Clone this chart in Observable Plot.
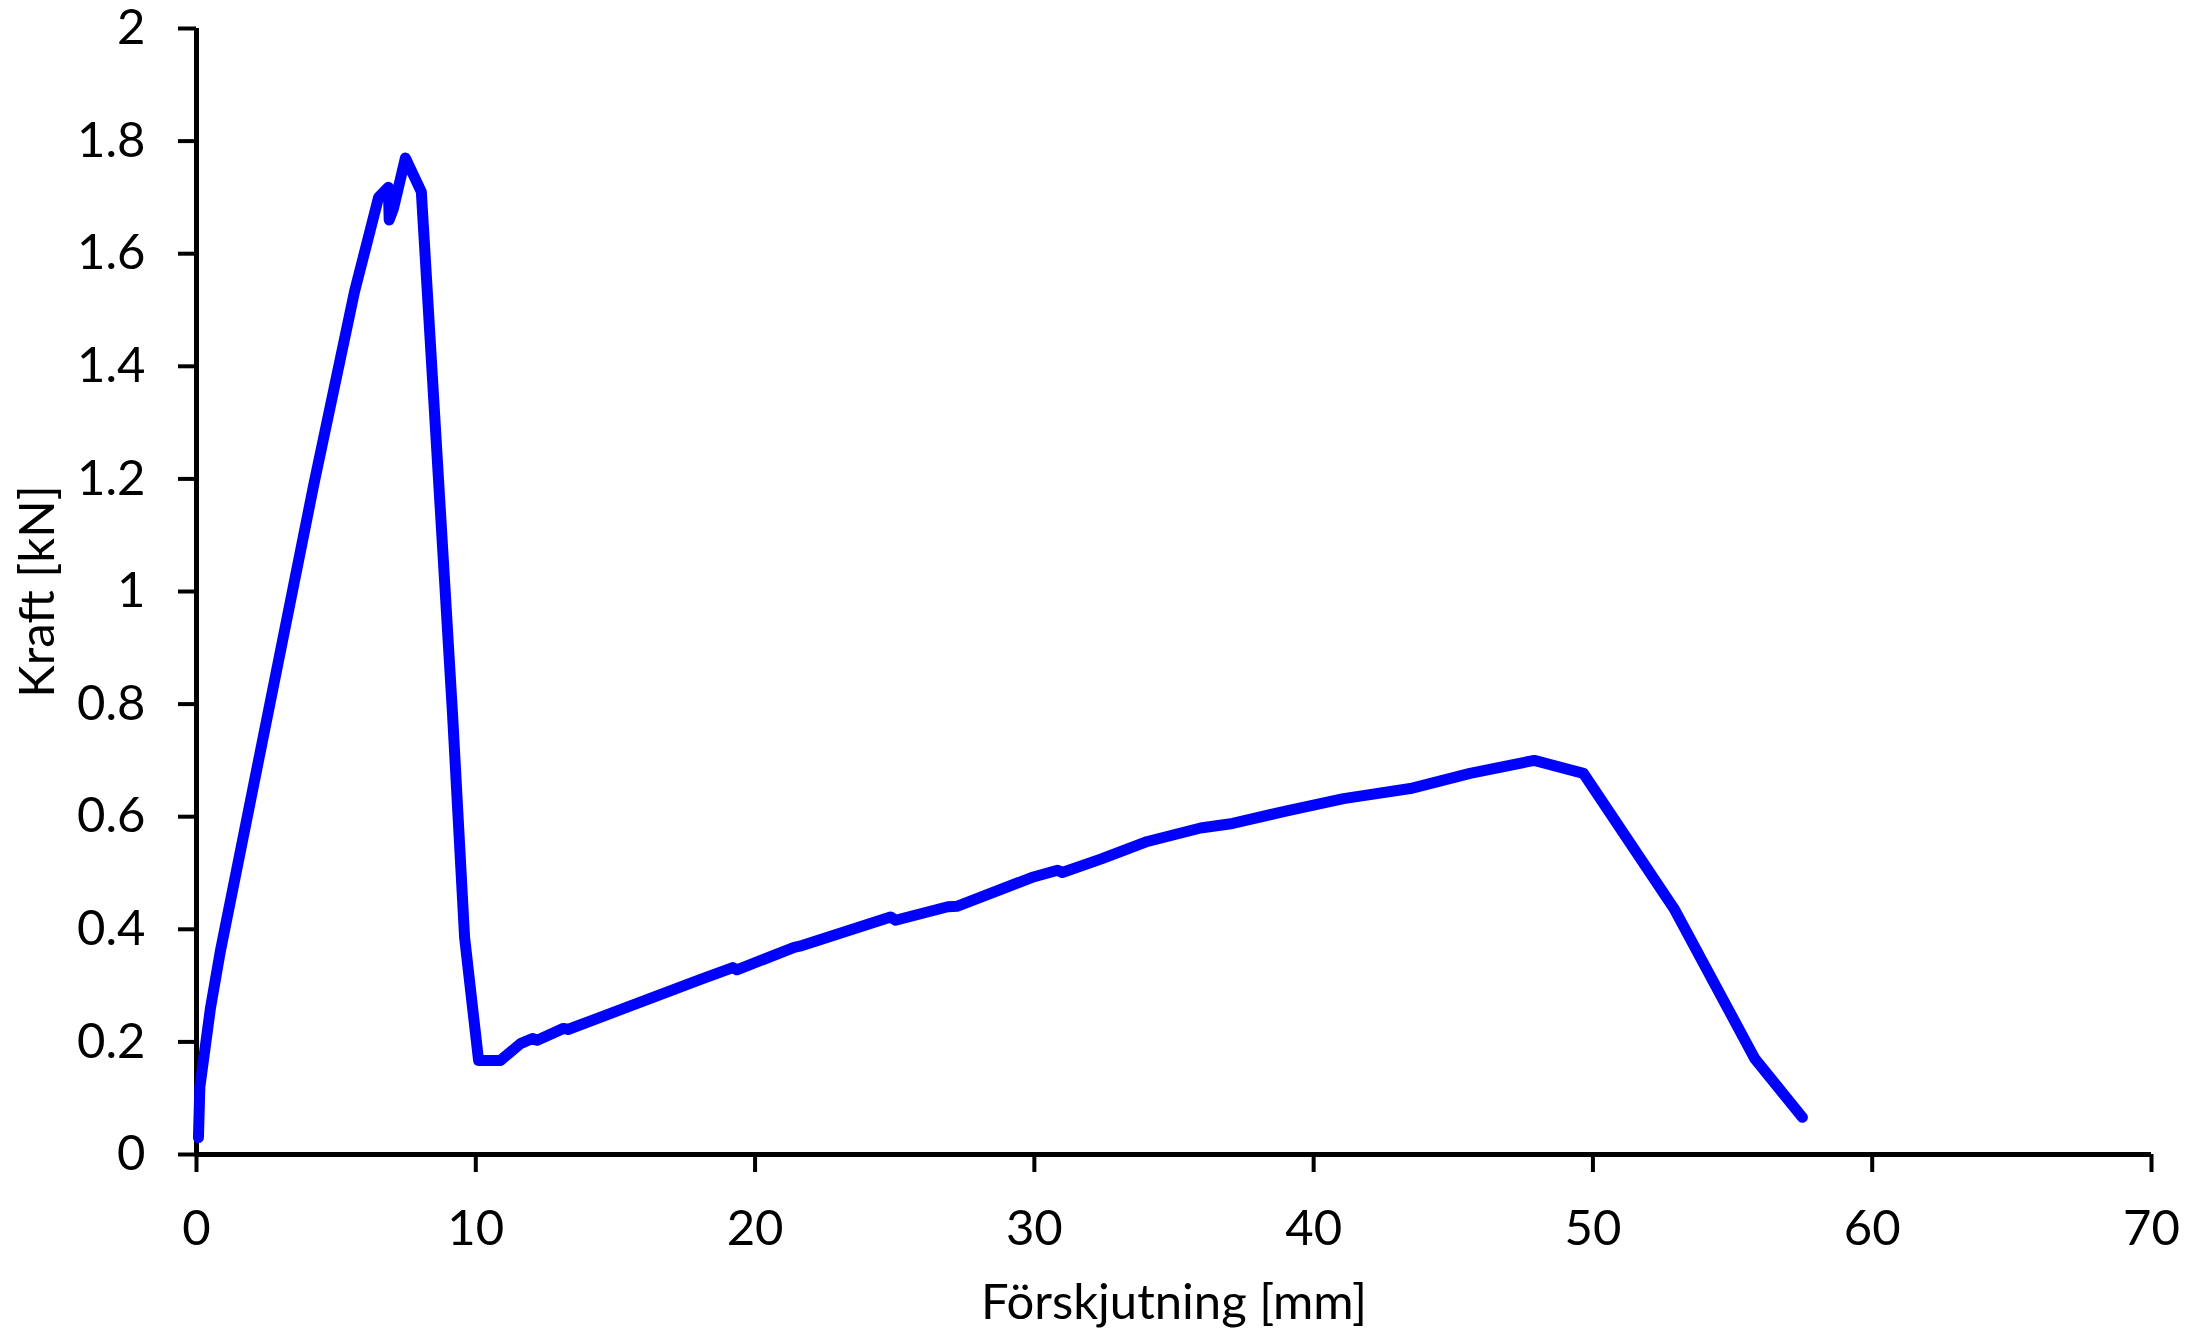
<!DOCTYPE html>
<html><head><meta charset="utf-8">
<script src="https://cdn.jsdelivr.net/npm/d3@7"></script>
<script src="https://cdn.jsdelivr.net/npm/@observablehq/plot@0.6"></script>
<style>body{margin:0;background:#fff} svg{overflow:visible}</style>
</head><body><div id="chart"></div>
<script>
const displacement = [0.07, 0.12, 0.5, 0.85, 4.2, 5.66, 6.52, 6.87, 6.9, 7.05, 7.48, 8.05, 9.17, 9.6, 10.1, 10.88, 11.6, 12.03, 12.2, 13.14, 13.3, 18.05, 19.2, 19.35, 21.4, 21.6, 24.85, 25.03, 26.9, 27.25, 29.9, 30.83, 31.0, 32.4, 34.05, 35.95, 37.1, 39.0, 41.07, 43.46, 45.6, 47.9, 49.66, 52.9, 55.8, 57.5];
const force = [0.03, 0.12, 0.26, 0.36, 1.19, 1.533, 1.70, 1.718, 1.66, 1.68, 1.77, 1.71, 0.78, 0.385, 0.167, 0.167, 0.197, 0.206, 0.203, 0.224, 0.222, 0.311, 0.332, 0.328, 0.368, 0.370, 0.422, 0.416, 0.440, 0.441, 0.492, 0.505, 0.501, 0.525, 0.556, 0.580, 0.588, 0.610, 0.632, 0.650, 0.677, 0.700, 0.677, 0.437, 0.170, 0.066];
const xTicks = [0, 10, 20, 30, 40, 50, 60, 70];
const yTicks = [0, 0.2, 0.4, 0.6, 0.8, 1, 1.2, 1.4, 1.6, 1.8, 2];
const xTitle = "Förskjutning [mm]";
const yTitle = "Kraft [kN]";
const data = displacement.map((x, i) => ({x, y: force[i]}));
const FONT = 49;
const chart = Plot.plot({
  width: 2193, height: 1333,
  marginLeft: 196, marginRight: 42, marginTop: 28, marginBottom: 179,
  style: {fontFamily: "Lato, 'Open Sans', sans-serif", fontSize: FONT + "px", color: "#000", background: "#fff", overflow: "visible"},
  x: {domain: [0, 70]},
  y: {domain: [0, 2]},
  marks: [
    Plot.axisX(xTicks, {tickSize: 18, tickPadding: 38, strokeWidth: 4, label: null, fontSize: FONT, tickFormat: d => String(d)}),
    Plot.axisY(yTicks, {tickSize: 18, tickPadding: 33, strokeWidth: 4, label: null, fontSize: FONT, tickFormat: d => String(d)}),
    Plot.ruleX([0], {strokeWidth: 5}),
    Plot.ruleY([0], {strokeWidth: 5}),
    Plot.line(data, {x: "x", y: "y", stroke: "#0000ff", strokeWidth: 11, strokeLinejoin: "round", strokeLinecap: "round"}),
    Plot.text([xTitle], {frameAnchor: "bottom", dy: 149, textAnchor: "middle", lineAnchor: "middle", fontSize: FONT, fill: "#000"}),
    Plot.text([yTitle], {frameAnchor: "left", dx: -158, rotate: -90, textAnchor: "middle", lineAnchor: "middle", fontSize: FONT, fill: "#000"})
  ]
});
document.getElementById("chart").appendChild(chart);
</script>
</body></html>
